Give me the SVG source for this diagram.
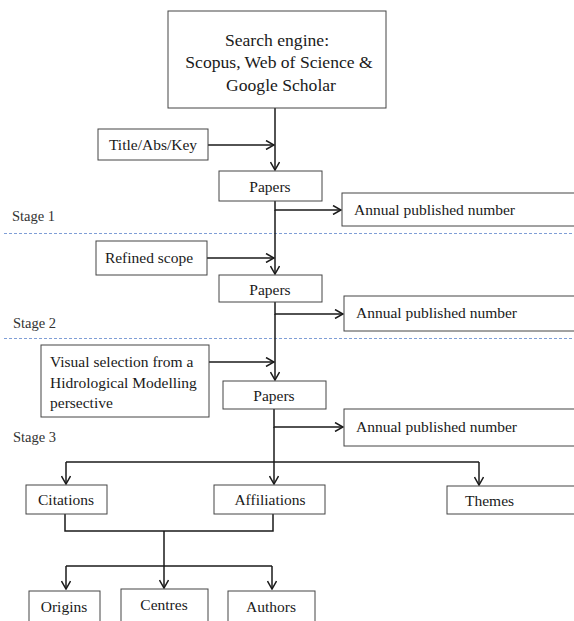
<svg xmlns="http://www.w3.org/2000/svg" width="574" height="621" viewBox="0 0 574 621">
<style>
.box{fill:#fff;stroke:#444;stroke-width:1}
.t{font-family:"Liberation Serif","Times New Roman",serif;font-size:15.5px;fill:#1a1a1a}
.c{text-anchor:middle}
.big{font-size:17.6px}
.stage{font-family:"Liberation Serif","Times New Roman",serif;font-size:14.5px;fill:#333}
.con{fill:none;stroke:#1a1a1a;stroke-width:1.5}
.dash{stroke:#7f9ed6;stroke-width:1;stroke-dasharray:3 2}
</style>
<defs>
<marker id="ah" viewBox="0 0 10 10" refX="9" refY="5" markerWidth="10" markerHeight="10" markerUnits="userSpaceOnUse" orient="auto">
<path d="M1,0.5 L9,5 L1,9.5" fill="none" stroke="#1a1a1a" stroke-width="1.5"/>
</marker>
</defs>
<rect width="574" height="621" fill="#fff"/>
<g id="dividers">
<line class="dash" x1="4" y1="233.5" x2="574" y2="233.5"/>
<line class="dash" x1="4" y1="338.5" x2="574" y2="338.5"/>
</g>
<g id="stages">
<text class="stage" x="12" y="221">Stage 1</text>
<text class="stage" x="13" y="328">Stage 2</text>
<text class="stage" x="13" y="442">Stage 3</text>
</g>
<g id="connectors">
<path class="con" d="M275,108 V170" marker-end="url(#ah)"/>
<path class="con" d="M208,145 H274" marker-end="url(#ah)"/>
<path class="con" d="M275,201 V210 H341" marker-end="url(#ah)"/>
<path class="con" d="M275,210 V274" marker-end="url(#ah)"/>
<path class="con" d="M207,258 H274" marker-end="url(#ah)"/>
<path class="con" d="M275,302 V314 H343" marker-end="url(#ah)"/>
<path class="con" d="M275,314 V380" marker-end="url(#ah)"/>
<path class="con" d="M209,362 H274" marker-end="url(#ah)"/>
<path class="con" d="M274,409 V427 H343" marker-end="url(#ah)"/>
<path class="con" d="M274,427 V484" marker-end="url(#ah)"/>
<path class="con" d="M66,462 H479"/>
<path class="con" d="M66,462 V484" marker-end="url(#ah)"/>
<path class="con" d="M479,462 V485" marker-end="url(#ah)"/>
<path class="con" d="M65,514 V531 H273 V514"/>
<path class="con" d="M164,531 V588" marker-end="url(#ah)"/>
<path class="con" d="M66,566 H272"/>
<path class="con" d="M66,566 V589" marker-end="url(#ah)"/>
<path class="con" d="M272,566 V589" marker-end="url(#ah)"/>
</g>
<g id="search">
<rect class="box" x="168" y="11" width="218" height="97"/>
<text class="t big c" x="277" y="46">Search engine:</text>
<text class="t big c" x="279" y="68">Scopus, Web of Science &amp;</text>
<text class="t big c" x="281" y="91">Google Scholar</text>
</g>
<g id="title-abs-key">
<rect class="box" x="98" y="129" width="110" height="31"/>
<text class="t c" x="153" y="150">Title/Abs/Key</text>
</g>
<g id="papers1">
<rect class="box" x="219" y="171" width="103" height="30"/>
<text class="t c" x="270" y="192">Papers</text>
</g>
<g id="annual1">
<rect class="box" x="342" y="193" width="240" height="33"/>
<text class="t" x="354" y="215">Annual published number</text>
</g>
<g id="refined">
<rect class="box" x="96" y="241" width="111" height="34"/>
<text class="t c" x="149" y="263">Refined scope</text>
</g>
<g id="papers2">
<rect class="box" x="219" y="275" width="103" height="27"/>
<text class="t c" x="270" y="295">Papers</text>
</g>
<g id="annual2">
<rect class="box" x="344" y="296" width="240" height="35"/>
<text class="t" x="356" y="318">Annual published number</text>
</g>
<g id="visual">
<rect class="box" x="41" y="345" width="168" height="72"/>
<text class="t" x="50" y="367">Visual selection from a</text>
<text class="t" x="50" y="388">Hidrological Modelling</text>
<text class="t" x="50" y="408">persective</text>
</g>
<g id="papers3">
<rect class="box" x="223" y="381" width="103" height="28"/>
<text class="t c" x="274" y="401">Papers</text>
</g>
<g id="annual3">
<rect class="box" x="344" y="409" width="240" height="37"/>
<text class="t" x="356" y="432">Annual published number</text>
</g>
<g id="citations">
<rect class="box" x="26" y="485" width="81" height="29"/>
<text class="t c" x="66" y="505">Citations</text>
</g>
<g id="affiliations">
<rect class="box" x="214" y="485" width="111" height="29"/>
<text class="t c" x="270" y="505">Affiliations</text>
</g>
<g id="themes">
<rect class="box" x="447" y="486" width="140" height="28"/>
<text class="t" x="465" y="506">Themes</text>
</g>
<g id="origins">
<rect class="box" x="29" y="591" width="71" height="40"/>
<text class="t c" x="64" y="612">Origins</text>
</g>
<g id="centres">
<rect class="box" x="121" y="589" width="87" height="42"/>
<text class="t c" x="164" y="610">Centres</text>
</g>
<g id="authors">
<rect class="box" x="228" y="591" width="87" height="40"/>
<text class="t c" x="271" y="612">Authors</text>
</g>
</svg>
